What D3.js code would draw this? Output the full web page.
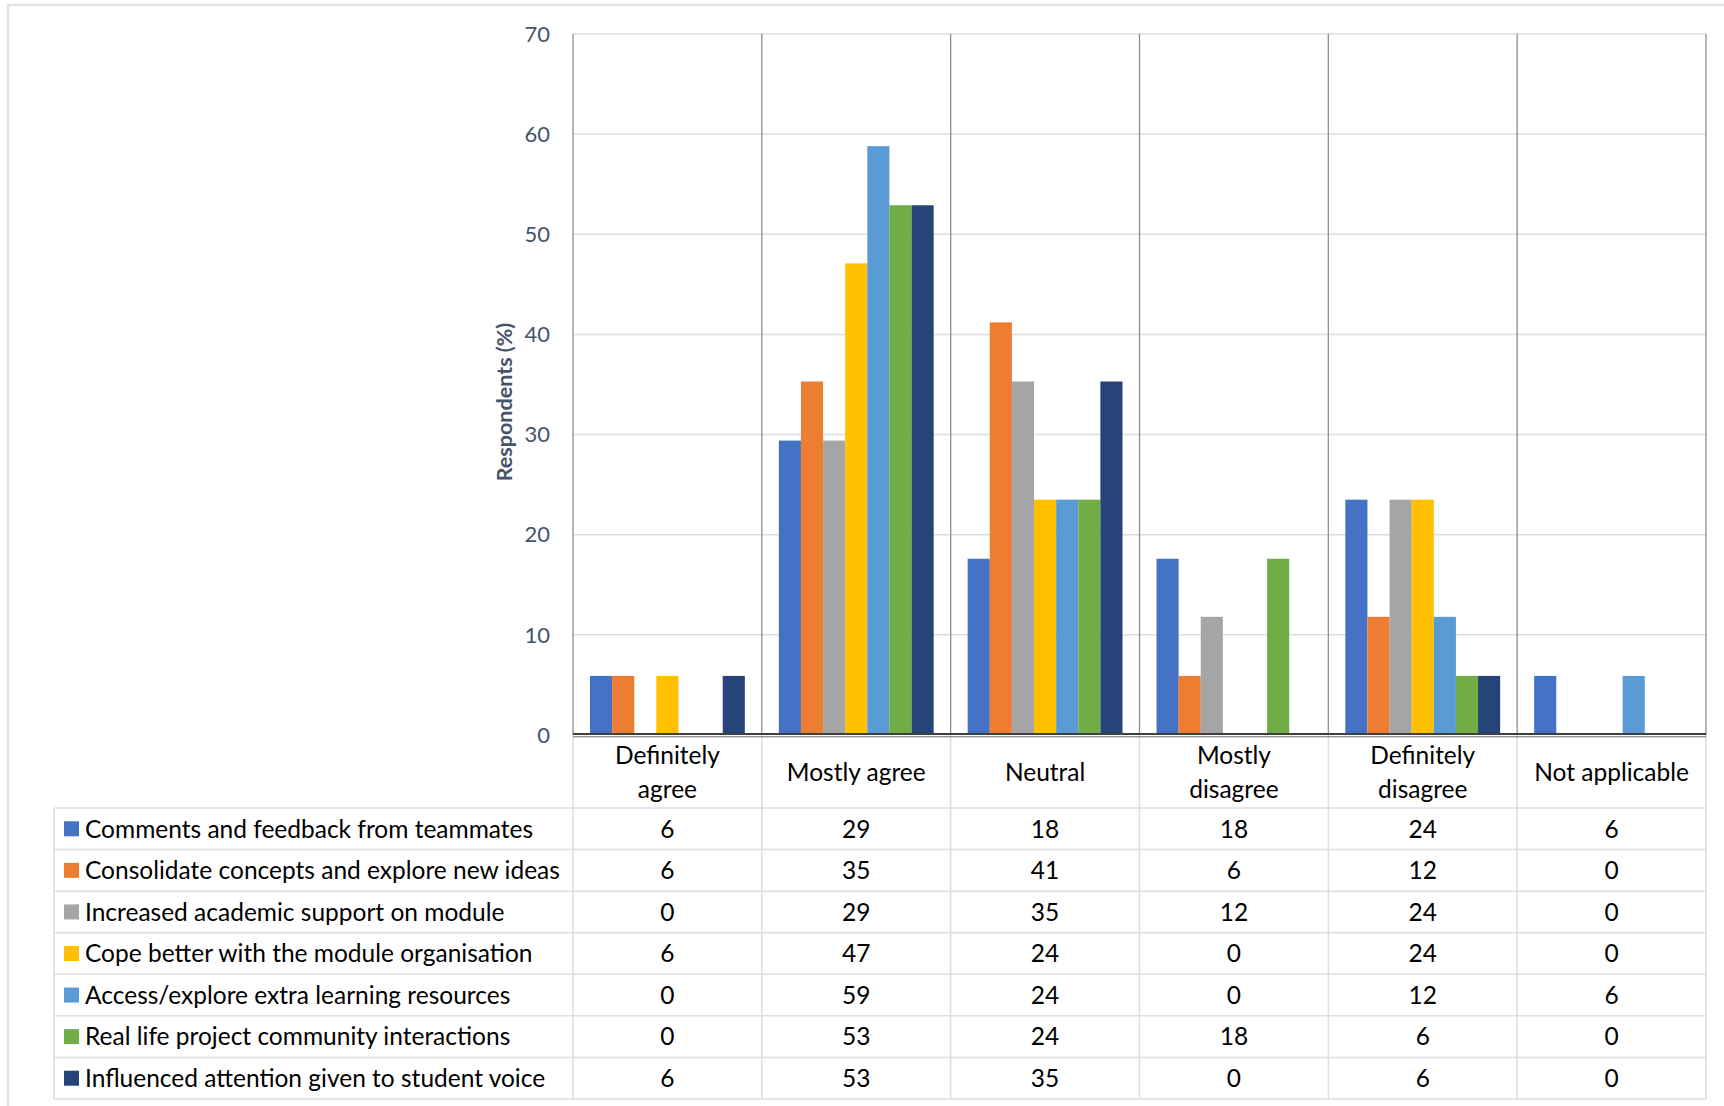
<html>
<head>
<meta charset="utf-8">
<script src="https://d3js.org/d3.v7.min.js"></script>
<style type="text/css">
    body { margin: 0; background: #ffffff; }
    svg text { font-family: Lato, "Open Sans", sans-serif; }
</style>
</head>
<body>
<div id="chart"></div>
<script type="text/javascript">

    // categories (x axis / table columns)
    const categories = ["Definitely\nagree", "Mostly agree", "Neutral", "Mostly\ndisagree", "Definitely\ndisagree", "Not applicable"]

    // series names (legend / table rows)
    const seriesNames = [
        "Comments and feedback from teammates",
        "Consolidate concepts and explore new ideas",
        "Increased academic support on module",
        "Cope better with the module organisation",
        "Access/explore extra learning resources",
        "Real life project community interactions",
        "Influenced attention given to student voice"
    ]

    // values (% respondents), bars, table shows them rounded
    const comments = [5.9, 29.4, 17.6, 17.6, 23.5, 5.9]
    const consolidate = [5.9, 35.3, 41.2, 5.9, 11.8, 0]
    const increased = [0, 29.4, 35.3, 11.8, 23.5, 0]
    const cope = [5.9, 47.1, 23.5, 0, 23.5, 0]
    const access = [0, 58.8, 23.5, 0, 11.8, 5.9]
    const realLife = [0, 52.9, 23.5, 17.6, 5.9, 0]
    const influenced = [5.9, 52.9, 35.3, 0, 5.9, 0]

    const yTicks = [0, 10, 20, 30, 40, 50, 60, 70]

    const seriesValues = [comments, consolidate, increased, cope, access, realLife, influenced]
    const colors = ["#4472C4", "#ED7D31", "#A5A5A5", "#FFC000", "#5B9BD5", "#70AD47", "#264478"]

    const width = 1724
    const height = 1106

    const plotLeft = 573
    const plotRight = 1706
    const plotTop = 34
    const plotBottom = 735
    const tableTop = 808
    const tableBottom = 1099
    const tableLeft = 54
    const rowH = (tableBottom - tableTop) / seriesNames.length

    const lightLine = "#dadee5"
    const darkLine = "#8f8f8f"
    const axisText = "#44546A"
    const fontSize = 24.5

    const svg = d3.select("#chart").append("svg")
        .attr("width", width)
        .attr("height", height)

    const x = d3.scaleBand()
        .domain(d3.range(categories.length))
        .range([plotLeft, plotRight])
        .padding(0)

    const xInner = d3.scaleBand()
        .domain(d3.range(seriesNames.length))
        .range([17, x.bandwidth() - 17])
        .padding(0)

    const y = d3.scaleLinear()
        .domain([0, 70])
        .range([plotBottom, plotTop])

    const fmt = d3.format(".0f")

    // outer chart border (top and left visible)
    svg.append("path")
        .attr("d", `M8,${height} L8,5 L${width},5`)
        .attr("fill", "none")
        .attr("stroke", "#dfe2e7")
        .attr("stroke-width", 2.5)

    // horizontal gridlines
    svg.append("g")
        .selectAll("line")
        .data(yTicks.filter(t => t > 0))
        .join("line")
        .attr("x1", plotLeft)
        .attr("x2", plotRight)
        .attr("y1", d => y(d))
        .attr("y2", d => y(d))
        .attr("stroke", lightLine)
        .attr("stroke-width", 1.5)

    // table grid
    const bounds = d3.range(categories.length + 1).map(i => i < categories.length ? x(i) : plotRight)
    svg.append("g")
        .selectAll("line")
        .data(bounds)
        .join("line")
        .attr("x1", d => d)
        .attr("x2", d => d)
        .attr("y1", plotBottom)
        .attr("y2", tableBottom)
        .attr("stroke", lightLine)
        .attr("stroke-width", 1.5)

    svg.append("line")
        .attr("x1", tableLeft).attr("x2", tableLeft)
        .attr("y1", tableTop).attr("y2", tableBottom)
        .attr("stroke", lightLine)
        .attr("stroke-width", 1.5)

    svg.append("g")
        .selectAll("line")
        .data(d3.range(seriesNames.length + 1))
        .join("line")
        .attr("x1", tableLeft)
        .attr("x2", plotRight)
        .attr("y1", i => tableTop + i * rowH)
        .attr("y2", i => tableTop + i * rowH)
        .attr("stroke", lightLine)
        .attr("stroke-width", 1.5)

    // category dividers inside plot
    svg.append("g")
        .selectAll("line")
        .data(bounds)
        .join("line")
        .attr("x1", d => d)
        .attr("x2", d => d)
        .attr("y1", plotTop)
        .attr("y2", plotBottom)
        .attr("stroke", darkLine)
        .attr("stroke-width", 1.3)

    // bars
    const groups = svg.append("g")
        .selectAll("g")
        .data(seriesValues)
        .join("g")
        .attr("fill", (d, i) => colors[i])

    groups.selectAll("rect")
        .data((vals, si) => vals.map((v, ci) => ({ v, ci, si })))
        .join("rect")
        .attr("x", d => x(d.ci) + xInner(d.si))
        .attr("width", xInner.bandwidth())
        .attr("y", d => y(d.v))
        .attr("height", d => y(0) - y(d.v))

    // zero baseline (double line)
    svg.append("line")
        .attr("x1", plotLeft).attr("x2", plotRight)
        .attr("y1", y(0) - 1).attr("y2", y(0) - 1)
        .attr("stroke", "#3f3f3f")
        .attr("stroke-width", 1.8)
    svg.append("line")
        .attr("x1", plotLeft).attr("x2", plotRight)
        .attr("y1", y(0) + 1.8).attr("y2", y(0) + 1.8)
        .attr("stroke", "#6a6a6a")
        .attr("stroke-width", 1)

    // y tick labels
    svg.append("g")
        .selectAll("text")
        .data(yTicks)
        .join("text")
        .attr("x", 550)
        .attr("y", d => y(d))
        .attr("dy", "0.35em")
        .attr("text-anchor", "end")
        .attr("font-size", 22)
        .attr("fill", axisText)
        .text(d => d)

    // y axis title
    svg.append("text")
        .attr("transform", "translate(512,402) rotate(-90)")
        .attr("text-anchor", "middle")
        .attr("font-size", 21.5)
        .attr("font-weight", "bold")
        .attr("fill", axisText)
        .text("Respondents (%)")

    // category labels in header row
    const headerMid = (plotBottom + tableTop) / 2 + 1
    svg.append("g")
        .selectAll("text")
        .data(categories)
        .join("text")
        .attr("x", (d, i) => x(i) + x.bandwidth() / 2)
        .attr("y", headerMid)
        .attr("text-anchor", "middle")
        .attr("font-size", fontSize)
        .attr("fill", "#000")
        .each(function (d) {
            const lines = d.split("\n")
            const t = d3.select(this)
            lines.forEach((ln, k) => {
                t.append("tspan")
                    .attr("x", t.attr("x"))
                    .attr("dy", k === 0 ? ((-(lines.length - 1) * 1.36 / 2) + 0.35) + "em" : "1.36em")
                    .text(ln)
            })
        })

    // table rows: legend key + name + values
    const rows = svg.append("g")
        .selectAll("g")
        .data(seriesNames)
        .join("g")
        .attr("transform", (d, i) => `translate(0,${tableTop + i * rowH + rowH / 2})`)

    rows.append("rect")
        .attr("x", 64)
        .attr("y", -7.5)
        .attr("width", 15)
        .attr("height", 15)
        .attr("fill", (d, i) => colors[i])

    rows.append("text")
        .attr("x", 85)
        .attr("dy", "0.36em")
        .attr("font-size", fontSize)
        .attr("fill", "#000")
        .text(d => d)

    rows.selectAll("text.val")
        .data((d, i) => seriesValues[i])
        .join("text")
        .attr("class", "val")
        .attr("x", (d, ci) => x(ci) + x.bandwidth() / 2)
        .attr("dy", "0.36em")
        .attr("text-anchor", "middle")
        .attr("font-size", fontSize)
        .attr("fill", "#000")
        .text(d => fmt(d))

</script>
</body>
</html>
